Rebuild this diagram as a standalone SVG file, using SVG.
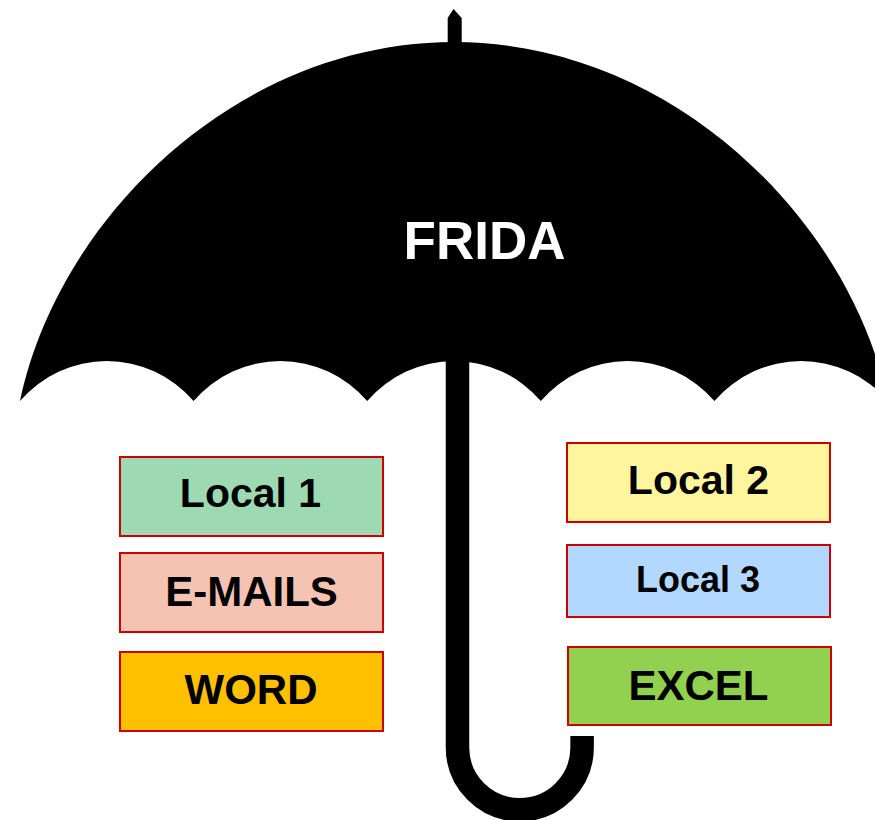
<svg xmlns="http://www.w3.org/2000/svg" width="875" height="820" viewBox="0 0 875 820">
<style>
.box{stroke:#cc0000;stroke-width:2}
.lbl{font-family:"Liberation Sans",Arial,sans-serif;font-weight:bold;fill:#000;text-anchor:middle}
</style>
<rect width="875" height="820" fill="#fff"/>
<g id="umbrella">
<polygon points="447.7,46 447.7,18 453.5,9 461.7,18 461.7,46" fill="#000"/>
<path fill="#000" d="M20,401 C59,216 239,42 454,42 C669,42 849,216 888,401 A114.2,114.2 0 0 0 714.4,401 A114.2,114.2 0 0 0 540.8,401 A114.2,114.2 0 0 0 367.2,401 A114.2,114.2 0 0 0 193.6,401 A114.2,114.2 0 0 0 20,401 Z"/>
<path fill="none" stroke="#000" stroke-width="23.5" d="M457.5,350 V747.5 A62.3,62.3 0 0 0 582.1,747.5 V736"/>
<text class="lbl" x="484.5" y="259" font-size="53" style="fill:#fff">FRIDA</text>
</g>
<g id="local1"><rect class="box" x="120" y="457" width="263" height="79" fill="#9dd9b2"/><text class="lbl" x="250.5" y="507" font-size="41">Local 1</text></g>
<g id="emails"><rect class="box" x="120" y="553" width="263" height="79" fill="#f5c3b1"/><text class="lbl" x="251.5" y="605.5" font-size="42">E-MAILS</text></g>
<g id="word"><rect class="box" x="120" y="652" width="263" height="79" fill="#ffc000"/><text class="lbl" x="251" y="704" font-size="42">WORD</text></g>
<g id="local2"><rect class="box" x="567" y="443" width="263" height="79" fill="#fff59d"/><text class="lbl" x="698.5" y="494" font-size="41">Local 2</text></g>
<g id="local3"><rect class="box" x="567" y="545" width="263" height="72" fill="#b3d8ff"/><text class="lbl" x="698" y="591.5" font-size="36">Local 3</text></g>
<g id="excel"><rect class="box" x="568" y="647" width="263" height="78" fill="#92d050"/><text class="lbl" x="698.5" y="700" font-size="42">EXCEL</text></g>
<g id="connectors"></g>
</svg>
